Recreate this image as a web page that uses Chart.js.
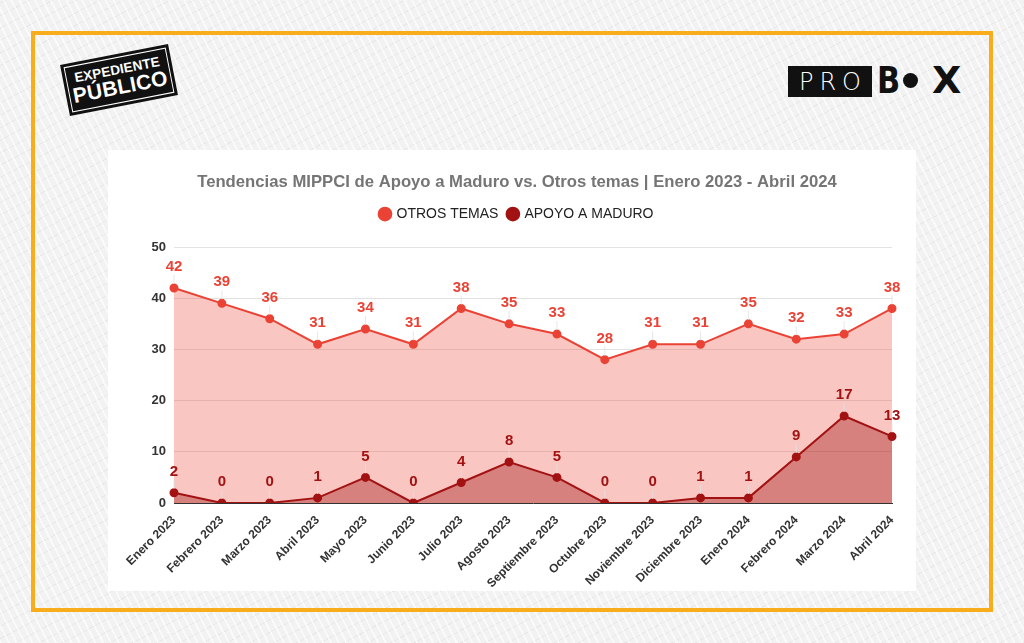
<!DOCTYPE html>
<html>
<head>
<meta charset="utf-8">
<script src="https://cdn.jsdelivr.net/npm/chart.js@4.4.1/dist/chart.umd.min.js"></script>
<style>
  html, body { margin:0; padding:0; }
  body {
    width:1024px; height:643px; position:relative; overflow:hidden;
    background-color:#f2f2f2;
    background-image:
      repeating-linear-gradient(63deg, rgba(255,255,255,0.6) 0 2px, rgba(0,0,0,0) 2px 7px),
      repeating-linear-gradient(-28deg, rgba(200,200,200,0.22) 0 1px, rgba(0,0,0,0) 1px 11px);
    font-family: "Liberation Sans", Arial, sans-serif;
  }
  #frame {
    position:absolute; left:31px; top:31px; width:954px; height:573px;
    border:4px solid #f7ad1c;
  }
  #panel {
    position:absolute; left:108px; top:150px; width:808px; height:441px; background:#fff;
  }
  #ep {
    position:absolute; left:64px; top:54px; width:110px; height:52px;
    background:#111; transform:rotate(-11deg); color:#fff;
    box-sizing:border-box; padding:3px;
  }
  #ep .in {
    border:1.5px solid #fff; height:100%; box-sizing:border-box;
    display:flex; flex-direction:column; align-items:center; justify-content:center;
    font-weight:bold; line-height:1;
  }
  #ep .a { font-size:13.5px; letter-spacing:0.1px; }
  #ep .b { font-size:21px; letter-spacing:0.2px; }
  #pro {
    position:absolute; left:788px; top:66px; width:84px; height:31px; background:#111;
    color:#fff; font-size:24px; letter-spacing:6px; font-weight:300;
    font-family:"DejaVu Sans", sans-serif; display:flex; align-items:center; justify-content:center;
    box-sizing:border-box; padding-left:6px;
  }
  #box {
    position:absolute; left:877px; top:58px; height:44px; display:flex; align-items:center;
    font-family:"DejaVu Sans", sans-serif; font-weight:bold; font-size:38px; color:#111;
  }
  #box .b { display:inline-block; width:20px; transform:scaleX(0.8); transform-origin:left center; }
  #box .dot { display:inline-block; width:15px; height:15px; border-radius:50%; background:#111; margin:0 14px 0 6px; }
  #box .x { display:inline-block; }
</style>
</head>
<body>
<div id="frame"></div>
<div id="ep"><div class="in"><span class="a">EXPEDIENTE</span><span class="b">PÚBLICO</span></div></div>
<div id="pro">PRO</div>
<div id="box"><span class="b">B</span><span class="dot"></span><span class="x">X</span></div>
<div id="panel"><canvas id="c" width="808" height="441"></canvas></div>
<script>
const categories = ["Enero 2023","Febrero 2023","Marzo 2023","Abril 2023","Mayo 2023","Junio 2023","Julio 2023","Agosto 2023","Septiembre 2023","Octubre 2023","Noviembre 2023","Diciembre 2023","Enero 2024","Febrero 2024","Marzo 2024","Abril 2024"];
const otrosTemas = [42,39,36,31,34,31,38,35,33,28,31,31,35,32,33,38];
const apoyoMaduro = [2,0,0,1,5,0,4,8,5,0,0,1,1,9,17,13];
const yTicks = [0,10,20,30,40,50];

const FONT = '"Liberation Sans", Arial, sans-serif';

const labelPlugin = {
  id: 'valueLabels',
  afterDatasetsDraw(chart) {
    const ctx = chart.ctx;
    ctx.save();
    chart.data.datasets.forEach((ds, i) => {
      const meta = chart.getDatasetMeta(i);
      meta.data.forEach((pt, j) => {
        const x = pt.x, y = pt.y;
        ctx.strokeStyle = 'rgba(225,225,225,0.8)';
        ctx.lineWidth = 1;
        ctx.beginPath(); ctx.moveTo(x, y - 13); ctx.lineTo(x, y - 4); ctx.stroke();
        ctx.font = 'bold 15px ' + FONT;
        ctx.fillStyle = ds.labelColor;
        ctx.textAlign = 'center';
        ctx.textBaseline = 'middle';
        ctx.fillText(String(ds.data[j]), x, y - 21);
      });
    });
    ctx.restore();
  }
};

const legendGap = {
  id: 'legendGap',
  beforeInit(chart) {
    const lg = chart.legend;
    const orig = lg.fit;
    lg.fit = function () { orig.call(this); this.height += 16; };
  }
};

new Chart(document.getElementById('c'), {
  type: 'line',
  data: {
    labels: categories,
    datasets: [
      {
        label: 'OTROS TEMAS', data: otrosTemas, order: 2,
        borderColor: '#ea4335', backgroundColor: 'rgba(234,67,53,0.3)',
        pointBackgroundColor: '#ea4335', pointBorderColor: '#ea4335',
        pointRadius: 3.5, borderWidth: 2, fill: 'origin', tension: 0,
        labelColor: '#ea4335'
      },
      {
        label: 'APOYO A MADURO', data: apoyoMaduro, order: 1,
        borderColor: '#a31212', backgroundColor: 'rgba(153,0,0,0.35)',
        pointBackgroundColor: '#a31212', pointBorderColor: '#a31212',
        pointRadius: 3.5, borderWidth: 2, fill: 'origin', tension: 0,
        labelColor: '#a31212'
      }
    ]
  },
  options: {
    responsive: false, animation: false,
    layout: { padding: { left: 34, right: 24, top: 18, bottom: 0 } },
    plugins: {
      title: {
        display: true,
        text: 'Tendencias MIPPCI de Apoyo a Maduro vs. Otros temas | Enero 2023 - Abril 2024',
        color: '#757575',
        font: { family: FONT, size: 16.7, weight: 'bold' },
        padding: { top: 4, bottom: 5 }
      },
      legend: {
        display: true,
        labels: {
          usePointStyle: true, pointStyle: 'circle', boxWidth: 9, boxHeight: 9,
          color: '#222', padding: 10,
          font: { family: FONT, size: 14 },
          sort: (a, b) => a.datasetIndex - b.datasetIndex
        }
      },
      tooltip: { enabled: false }
    },
    scales: {
      x: {
        grid: { display: false },
        border: { color: '#333', width: 1 },
        offset: false,
        ticks: {
          autoSkip: false, maxRotation: 45, minRotation: 45,
          color: '#333', padding: 2,
          font: { family: FONT, size: 12, weight: 'bold' }
        },
        afterFit(s) { s.height = 88; }
      },
      y: {
        min: 0, max: 50,
        afterBuildTicks(s) { s.ticks = yTicks.map(v => ({ value: v })); },
        grid: { color: '#e2e2e2', drawTicks: false },
        border: { display: false },
        ticks: {
          color: '#333', padding: 8,
          font: { family: FONT, size: 13, weight: 'bold' }
        },
        afterFit(s) { s.width = 32; }
      }
    }
  },
  plugins: [labelPlugin, legendGap]
});
</script>
</body>
</html>
